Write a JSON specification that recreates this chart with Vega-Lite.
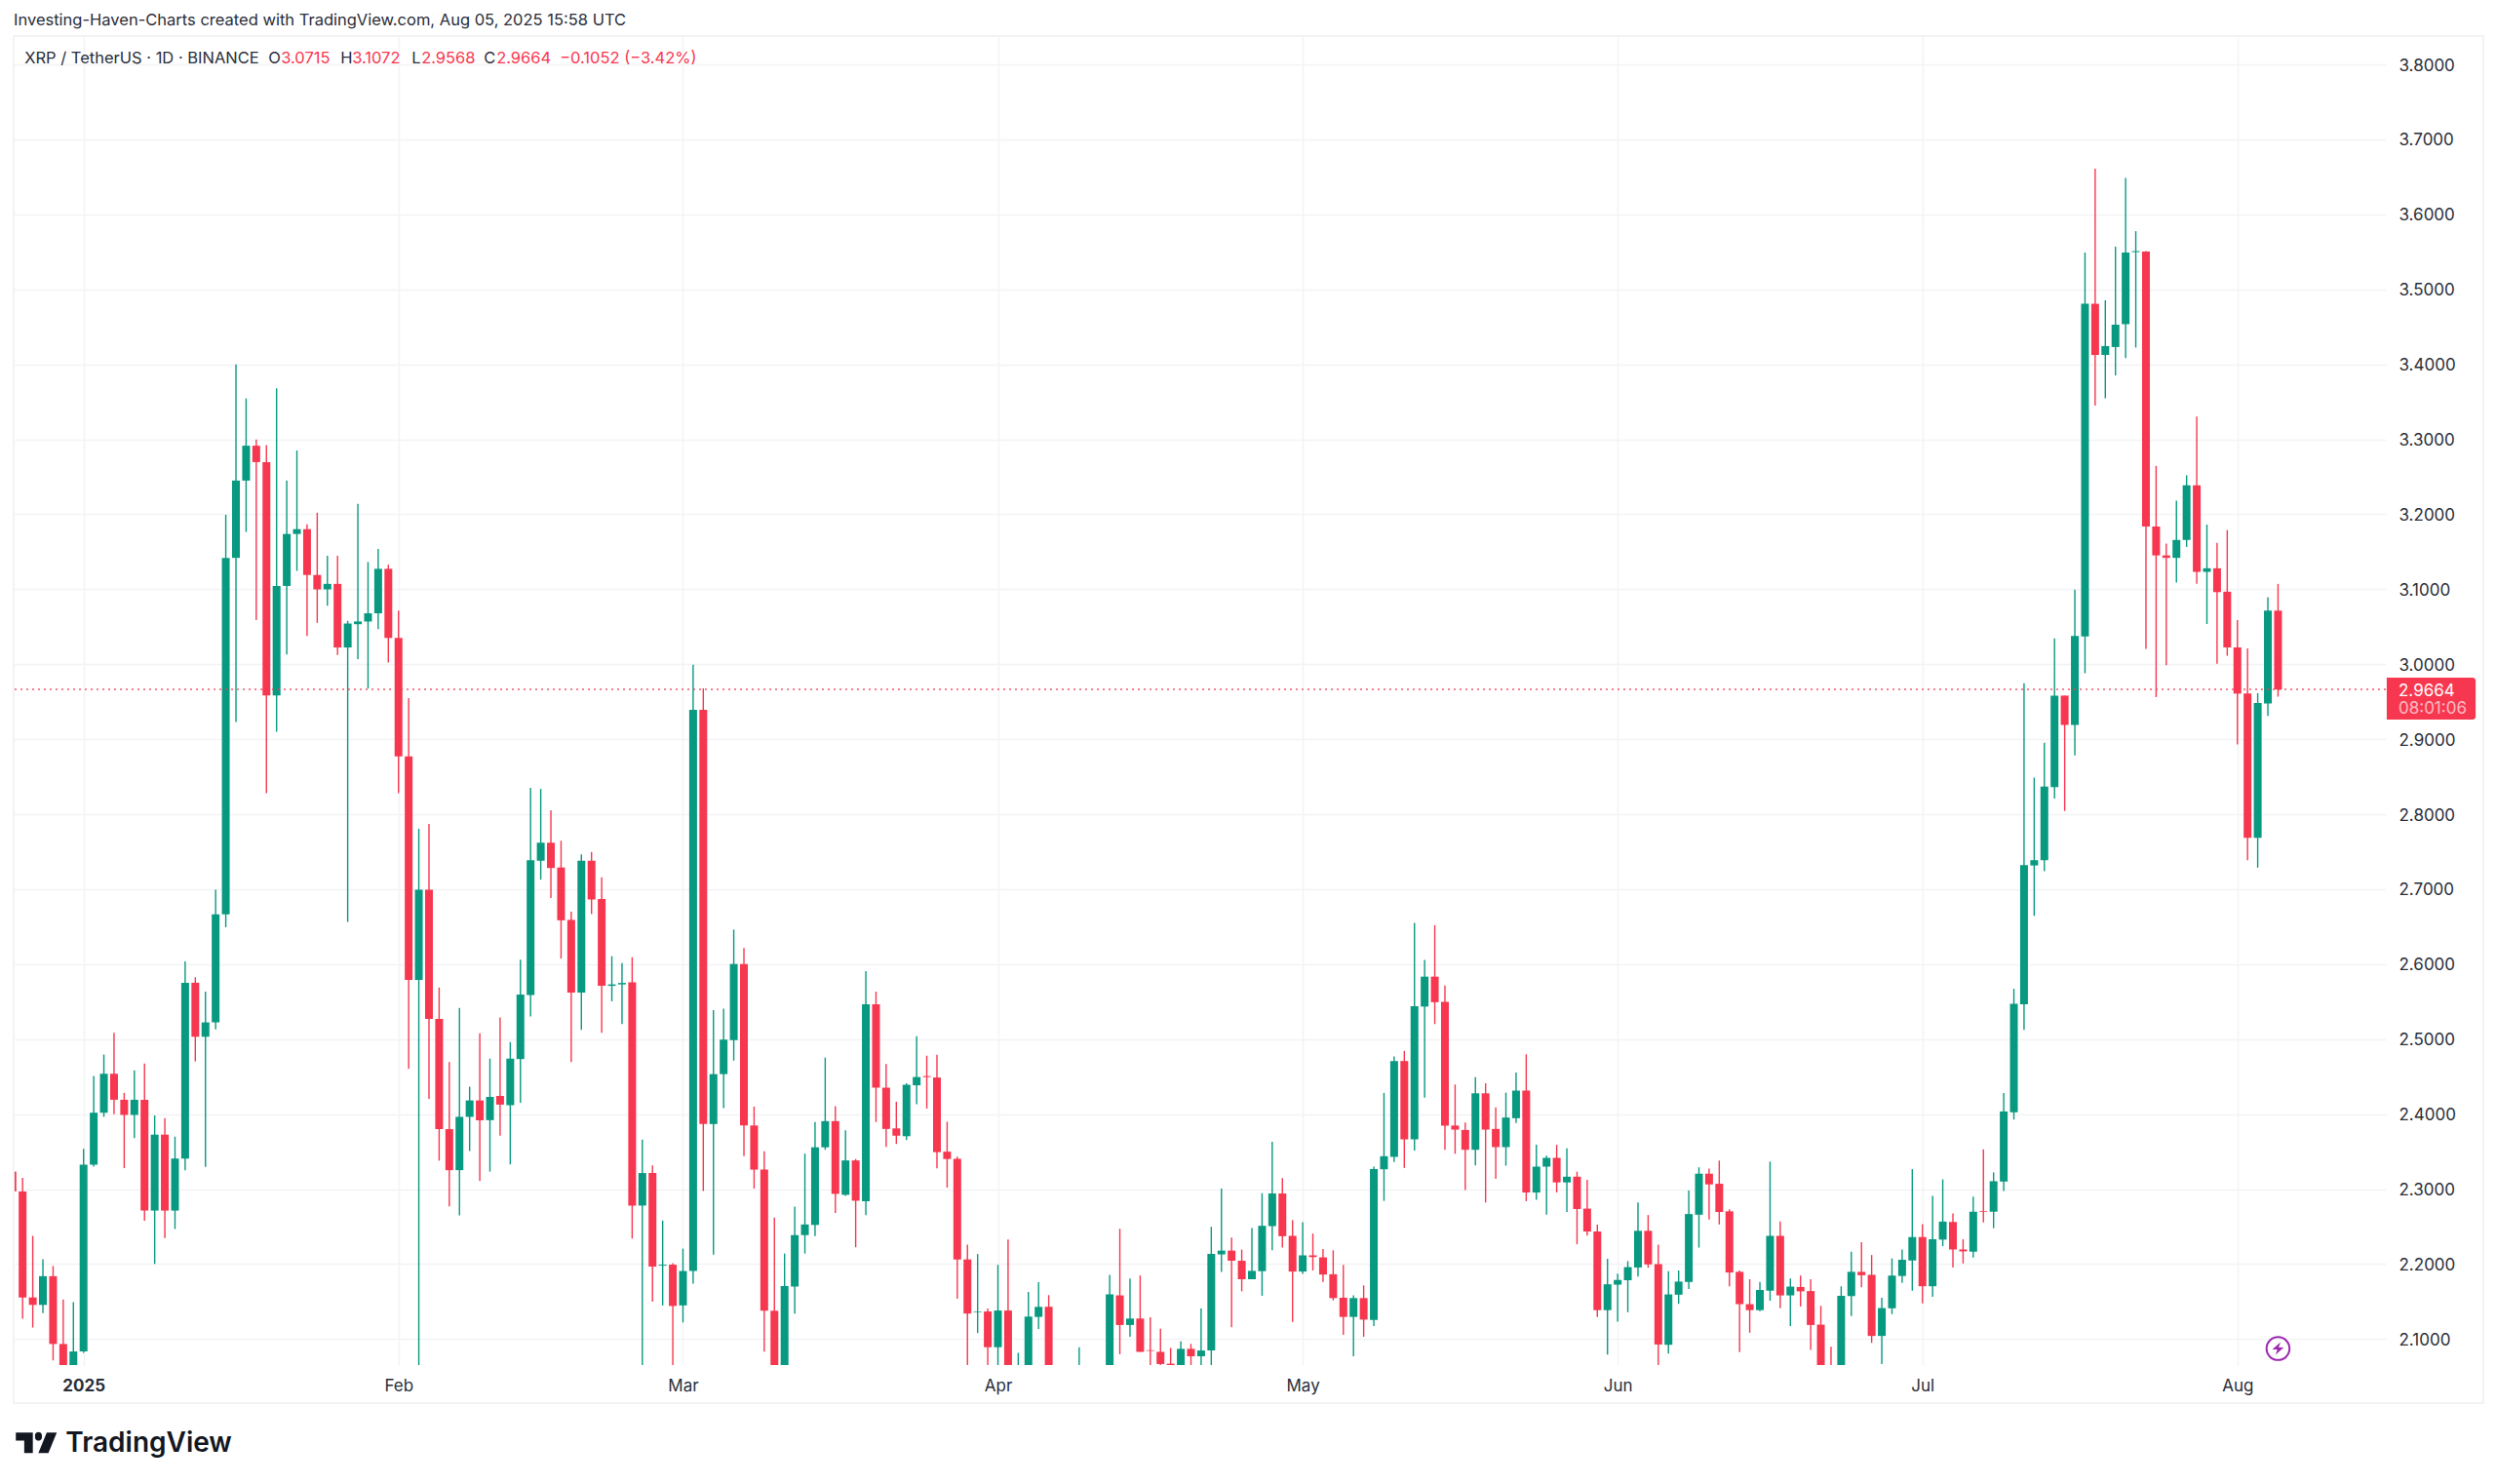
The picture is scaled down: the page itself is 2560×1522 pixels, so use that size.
{
"$schema":"https://vega.github.io/schema/vega-lite/v6.json",
"description":"XRP / TetherUS daily candles, Binance, Dec 2024 to Aug 2025",
"width":2433,"height":1363,
"autosize":{"type":"none"},
"padding":{"left":14,"top":37,"right":113,"bottom":122},
"background":"#ffffff",
"config":{"view":{"stroke":null},"font":"Inter"},
"title":{"text":"Investing-Haven-Charts created with TradingView.com, Aug 05, 2025 15:58 UTC","anchor":"start","frame":"group","offset":7,"font":"Inter","fontSize":16.5,"fontWeight":"normal","color":"#2a2e39"},
"data":{"values":[
{"date":"2024-12-25","open":2.3234,"high":2.3234,"low":2.297,"close":2.297},
{"date":"2024-12-26","open":2.297,"high":2.3152,"low":2.1273,"close":2.1556},
{"date":"2024-12-27","open":2.1556,"high":2.2377,"low":2.1154,"close":2.1456},
{"date":"2024-12-28","open":2.1456,"high":2.2066,"low":2.1345,"close":2.1839},
{"date":"2024-12-29","open":2.1839,"high":2.1975,"low":2.0716,"close":2.0935},
{"date":"2024-12-30","open":2.0935,"high":2.1527,"low":2.03,"close":2.05},
{"date":"2024-12-31","open":2.05,"high":2.1492,"low":2.02,"close":2.0835},
{"date":"2025-01-01","open":2.0835,"high":2.3536,"low":2.0817,"close":2.3326},
{"date":"2025-01-02","open":2.3326,"high":2.4511,"low":2.33,"close":2.4019},
{"date":"2025-01-03","open":2.4019,"high":2.4795,"low":2.3964,"close":2.4539},
{"date":"2025-01-04","open":2.4539,"high":2.5086,"low":2.4,"close":2.4192},
{"date":"2025-01-05","open":2.4192,"high":2.4283,"low":2.328,"close":2.399},
{"date":"2025-01-06","open":2.399,"high":2.4585,"low":2.3682,"close":2.4192},
{"date":"2025-01-07","open":2.4192,"high":2.4676,"low":2.2577,"close":2.2714},
{"date":"2025-01-08","open":2.2714,"high":2.3982,"low":2.2003,"close":2.3727},
{"date":"2025-01-09","open":2.3727,"high":2.3946,"low":2.2349,"close":2.2714},
{"date":"2025-01-10","open":2.2714,"high":2.37,"low":2.2468,"close":2.3408},
{"date":"2025-01-11","open":2.3408,"high":2.6036,"low":2.3253,"close":2.5753},
{"date":"2025-01-12","open":2.5753,"high":2.5826,"low":2.4703,"close":2.5032},
{"date":"2025-01-13","open":2.5032,"high":2.5634,"low":2.3298,"close":2.5224},
{"date":"2025-01-14","open":2.5224,"high":2.6994,"low":2.5132,"close":2.6665},
{"date":"2025-01-15","open":2.6665,"high":3.1994,"low":2.6492,"close":3.1419},
{"date":"2025-01-16","open":3.1419,"high":3.4,"low":2.9229,"close":3.245},
{"date":"2025-01-17","open":3.245,"high":3.3545,"low":3.1766,"close":3.2915},
{"date":"2025-01-18","open":3.2915,"high":3.2997,"low":3.0588,"close":3.2696},
{"date":"2025-01-19","open":3.2696,"high":3.2924,"low":2.828,"close":2.9585},
{"date":"2025-01-20","open":2.9585,"high":3.3682,"low":2.9101,"close":3.1045},
{"date":"2025-01-21","open":3.1045,"high":3.245,"low":3.0132,"close":3.1738},
{"date":"2025-01-22","open":3.1738,"high":3.2851,"low":3.1245,"close":3.1802},
{"date":"2025-01-23","open":3.1802,"high":3.1866,"low":3.0379,"close":3.1191},
{"date":"2025-01-24","open":3.1191,"high":3.2021,"low":3.0552,"close":3.0999},
{"date":"2025-01-25","open":3.0999,"high":3.1446,"low":3.078,"close":3.1072},
{"date":"2025-01-26","open":3.1072,"high":3.1446,"low":3.0123,"close":3.0224},
{"date":"2025-01-27","open":3.0224,"high":3.0579,"low":2.6565,"close":3.0543},
{"date":"2025-01-28","open":3.0534,"high":3.214,"low":3.0068,"close":3.0571},
{"date":"2025-01-29","open":3.057,"high":3.1364,"low":2.9676,"close":3.068},
{"date":"2025-01-30","open":3.068,"high":3.1537,"low":3.047,"close":3.1273},
{"date":"2025-01-31","open":3.1273,"high":3.1328,"low":3.0023,"close":3.0351},
{"date":"2025-02-01","open":3.0351,"high":3.0716,"low":2.828,"close":2.8773},
{"date":"2025-02-02","open":2.8773,"high":2.9548,"low":2.4603,"close":2.579},
{"date":"2025-02-03","open":2.579,"high":2.7806,"low":2.0,"close":2.6994},
{"date":"2025-02-04","open":2.6994,"high":2.787,"low":2.4203,"close":2.5269},
{"date":"2025-02-05","open":2.5269,"high":2.5689,"low":2.338,"close":2.38},
{"date":"2025-02-06","open":2.38,"high":2.4694,"low":2.2769,"close":2.3253},
{"date":"2025-02-07","open":2.3253,"high":2.5415,"low":2.265,"close":2.3964},
{"date":"2025-02-08","open":2.3964,"high":2.4366,"low":2.3508,"close":2.4183},
{"date":"2025-02-09","open":2.4183,"high":2.5077,"low":2.3107,"close":2.3918},
{"date":"2025-02-10","open":2.392,"high":2.4741,"low":2.3234,"close":2.423},
{"date":"2025-02-11","open":2.4243,"high":2.5291,"low":2.3713,"close":2.4127},
{"date":"2025-02-12","open":2.412,"high":2.4961,"low":2.3331,"close":2.4741},
{"date":"2025-02-13","open":2.4735,"high":2.6061,"low":2.4153,"close":2.5595},
{"date":"2025-02-14","open":2.5589,"high":2.8351,"low":2.5304,"close":2.7387},
{"date":"2025-02-15","open":2.738,"high":2.8338,"low":2.7128,"close":2.762},
{"date":"2025-02-16","open":2.762,"high":2.8053,"low":2.6882,"close":2.7283},
{"date":"2025-02-17","open":2.729,"high":2.7646,"low":2.6074,"close":2.6585},
{"date":"2025-02-18","open":2.6591,"high":2.6701,"low":2.4696,"close":2.5621},
{"date":"2025-02-19","open":2.5621,"high":2.7464,"low":2.5123,"close":2.738},
{"date":"2025-02-20","open":2.738,"high":2.7497,"low":2.6669,"close":2.6863},
{"date":"2025-02-21","open":2.6869,"high":2.716,"low":2.5084,"close":2.5711},
{"date":"2025-02-22","open":2.5711,"high":2.6106,"low":2.5505,"close":2.573},
{"date":"2025-02-23","open":2.573,"high":2.6016,"low":2.5201,"close":2.575},
{"date":"2025-02-24","open":2.5757,"high":2.6093,"low":2.2342,"close":2.2781},
{"date":"2025-02-25","open":2.2781,"high":2.3661,"low":2.0,"close":2.3215},
{"date":"2025-02-26","open":2.3215,"high":2.3318,"low":2.15,"close":2.1966},
{"date":"2025-02-27","open":2.1979,"high":2.2581,"low":2.1449,"close":2.1992},
{"date":"2025-02-28","open":2.1992,"high":2.2012,"low":2.0,"close":2.1442},
{"date":"2025-03-01","open":2.1449,"high":2.2206,"low":2.1222,"close":2.1908},
{"date":"2025-03-02","open":2.1908,"high":2.9994,"low":2.174,"close":2.9392},
{"date":"2025-03-03","open":2.9392,"high":2.9677,"low":2.2975,"close":2.3868},
{"date":"2025-03-04","open":2.3868,"high":2.5388,"low":2.2128,"close":2.4534},
{"date":"2025-03-05","open":2.4534,"high":2.5408,"low":2.4081,"close":2.4994},
{"date":"2025-03-06","open":2.4987,"high":2.6462,"low":2.4715,"close":2.6003},
{"date":"2025-03-07","open":2.6003,"high":2.6216,"low":2.3441,"close":2.3849},
{"date":"2025-03-08","open":2.3849,"high":2.4101,"low":2.3008,"close":2.326},
{"date":"2025-03-09","open":2.326,"high":2.3506,"low":2.0834,"close":2.1378},
{"date":"2025-03-10","open":2.1378,"high":2.262,"low":2.0,"close":2.03},
{"date":"2025-03-11","open":2.03,"high":2.2141,"low":2.0,"close":2.1708},
{"date":"2025-03-12","open":2.1701,"high":2.2768,"low":2.1339,"close":2.2387},
{"date":"2025-03-13","open":2.2387,"high":2.3473,"low":2.2141,"close":2.2529},
{"date":"2025-03-14","open":2.2523,"high":2.3894,"low":2.2374,"close":2.3558},
{"date":"2025-03-15","open":2.3558,"high":2.4754,"low":2.3525,"close":2.3907},
{"date":"2025-03-16","open":2.3907,"high":2.4107,"low":2.2684,"close":2.2937},
{"date":"2025-03-17","open":2.2924,"high":2.3784,"low":2.2911,"close":2.3383},
{"date":"2025-03-18","open":2.3383,"high":2.3402,"low":2.2225,"close":2.2846},
{"date":"2025-03-19","open":2.284,"high":2.5906,"low":2.2652,"close":2.5466},
{"date":"2025-03-20","open":2.5466,"high":2.5634,"low":2.3894,"close":2.4353},
{"date":"2025-03-21","open":2.4353,"high":2.467,"low":2.3564,"close":2.3803},
{"date":"2025-03-22","open":2.381,"high":2.4166,"low":2.3603,"close":2.3713},
{"date":"2025-03-23","open":2.3706,"high":2.4411,"low":2.3655,"close":2.4392},
{"date":"2025-03-24","open":2.4385,"high":2.5039,"low":2.4133,"close":2.4495},
{"date":"2025-03-25","open":2.4508,"high":2.478,"low":2.4075,"close":2.4495},
{"date":"2025-03-26","open":2.4489,"high":2.4793,"low":2.3279,"close":2.3493},
{"date":"2025-03-27","open":2.35,"high":2.39,"low":2.3021,"close":2.3402},
{"date":"2025-03-28","open":2.3404,"high":2.3435,"low":2.1538,"close":2.2063},
{"date":"2025-03-29","open":2.2063,"high":2.226,"low":2.0,"close":2.1341},
{"date":"2025-03-30","open":2.1359,"high":2.2135,"low":2.1081,"close":2.1368},
{"date":"2025-03-31","open":2.1368,"high":2.1408,"low":2.0,"close":2.0892},
{"date":"2025-04-01","open":2.0892,"high":2.1991,"low":2.0,"close":2.1381},
{"date":"2025-04-02","open":2.1381,"high":2.2327,"low":1.95,"close":2.03},
{"date":"2025-04-03","open":2.0,"high":2.0816,"low":1.95,"close":2.04},
{"date":"2025-04-04","open":2.03,"high":2.1628,"low":2.0,"close":2.13},
{"date":"2025-04-05","open":2.1296,"high":2.1758,"low":2.1135,"close":2.143},
{"date":"2025-04-06","open":2.143,"high":2.1587,"low":1.95,"close":2.02},
{"date":"2025-04-09","open":1.95,"high":2.0892,"low":1.9,"close":2.03},
{"date":"2025-04-12","open":2.0,"high":2.1857,"low":1.95,"close":2.1596},
{"date":"2025-04-13","open":2.1583,"high":2.2471,"low":2.0798,"close":2.1188},
{"date":"2025-04-14","open":2.1188,"high":2.1807,"low":2.1031,"close":2.1274},
{"date":"2025-04-15","open":2.1274,"high":2.1848,"low":2.083,"close":2.083},
{"date":"2025-04-16","open":2.0852,"high":2.1291,"low":2.04,"close":2.0843},
{"date":"2025-04-17","open":2.083,"high":2.1139,"low":2.04,"close":2.0668},
{"date":"2025-04-18","open":2.0672,"high":2.0883,"low":2.0,"close":2.05},
{"date":"2025-04-19","open":2.05,"high":2.0969,"low":2.03,"close":2.087},
{"date":"2025-04-20","open":2.087,"high":2.0937,"low":2.04,"close":2.0771},
{"date":"2025-04-21","open":2.0771,"high":2.1408,"low":2.04,"close":2.0848},
{"date":"2025-04-22","open":2.0848,"high":2.2498,"low":2.04,"close":2.2135},
{"date":"2025-04-23","open":2.213,"high":2.3009,"low":2.1897,"close":2.218},
{"date":"2025-04-24","open":2.218,"high":2.2354,"low":2.1157,"close":2.2045},
{"date":"2025-04-25","open":2.2045,"high":2.2193,"low":2.1637,"close":2.1798},
{"date":"2025-04-26","open":2.1798,"high":2.248,"low":2.1798,"close":2.191},
{"date":"2025-04-27","open":2.1906,"high":2.2946,"low":2.1578,"close":2.2511},
{"date":"2025-04-28","open":2.2507,"high":2.3632,"low":2.2184,"close":2.2942},
{"date":"2025-04-29","open":2.2942,"high":2.3148,"low":2.222,"close":2.2372},
{"date":"2025-04-30","open":2.2377,"high":2.2587,"low":2.1229,"close":2.1901},
{"date":"2025-05-01","open":2.1901,"high":2.256,"low":2.187,"close":2.2117},
{"date":"2025-05-02","open":2.2117,"high":2.2408,"low":2.1915,"close":2.2094},
{"date":"2025-05-03","open":2.209,"high":2.2202,"low":2.1762,"close":2.1861},
{"date":"2025-05-04","open":2.1865,"high":2.2184,"low":2.1516,"close":2.1547},
{"date":"2025-05-05","open":2.1552,"high":2.1991,"low":2.1058,"close":2.1296},
{"date":"2025-05-06","open":2.1296,"high":2.1583,"low":2.0771,"close":2.1547},
{"date":"2025-05-07","open":2.1547,"high":2.1717,"low":2.1031,"close":2.126},
{"date":"2025-05-08","open":2.1256,"high":2.33,"low":2.1175,"close":2.3269},
{"date":"2025-05-09","open":2.3265,"high":2.4283,"low":2.2843,"close":2.3439},
{"date":"2025-05-10","open":2.343,"high":2.4771,"low":2.3363,"close":2.4709},
{"date":"2025-05-11","open":2.4709,"high":2.4843,"low":2.3283,"close":2.3664},
{"date":"2025-05-12","open":2.3664,"high":2.6552,"low":2.3516,"close":2.544},
{"date":"2025-05-13","open":2.5435,"high":2.6058,"low":2.422,"close":2.5834},
{"date":"2025-05-14","open":2.5834,"high":2.652,"low":2.5202,"close":2.5493},
{"date":"2025-05-15","open":2.5498,"high":2.5717,"low":2.3525,"close":2.3848},
{"date":"2025-05-16","open":2.3848,"high":2.4395,"low":2.3471,"close":2.3794},
{"date":"2025-05-17","open":2.3789,"high":2.3888,"low":2.2987,"close":2.3525},
{"date":"2025-05-18","open":2.3525,"high":2.4493,"low":2.3318,"close":2.4278},
{"date":"2025-05-19","open":2.4278,"high":2.4413,"low":2.2821,"close":2.3794},
{"date":"2025-05-20","open":2.3803,"high":2.409,"low":2.3139,"close":2.3561},
{"date":"2025-05-21","open":2.3561,"high":2.4287,"low":2.3314,"close":2.3955},
{"date":"2025-05-22","open":2.3946,"high":2.4556,"low":2.3883,"close":2.4314},
{"date":"2025-05-23","open":2.4314,"high":2.4798,"low":2.2839,"close":2.2955},
{"date":"2025-05-24","open":2.2955,"high":2.3592,"low":2.2857,"close":2.33},
{"date":"2025-05-25","open":2.33,"high":2.3448,"low":2.2659,"close":2.3417},
{"date":"2025-05-26","open":2.3417,"high":2.3592,"low":2.2955,"close":2.309},
{"date":"2025-05-27","open":2.309,"high":2.3543,"low":2.2695,"close":2.3166},
{"date":"2025-05-28","open":2.3166,"high":2.3233,"low":2.2265,"close":2.2735},
{"date":"2025-05-29","open":2.274,"high":2.3126,"low":2.2381,"close":2.2435},
{"date":"2025-05-30","open":2.2435,"high":2.2525,"low":2.1296,"close":2.1386},
{"date":"2025-05-31","open":2.1386,"high":2.2072,"low":2.0794,"close":2.1731},
{"date":"2025-06-01","open":2.1726,"high":2.1874,"low":2.1233,"close":2.1789},
{"date":"2025-06-02","open":2.1785,"high":2.204,"low":2.1359,"close":2.196},
{"date":"2025-06-03","open":2.1955,"high":2.2821,"low":2.1834,"close":2.2444},
{"date":"2025-06-04","open":2.2444,"high":2.2655,"low":2.1951,"close":2.1996},
{"date":"2025-06-05","open":2.2,"high":2.226,"low":2.04,"close":2.0928},
{"date":"2025-06-06","open":2.0924,"high":2.1906,"low":2.0807,"close":2.1596},
{"date":"2025-06-07","open":2.1592,"high":2.1915,"low":2.1471,"close":2.1767},
{"date":"2025-06-08","open":2.1762,"high":2.2982,"low":2.1668,"close":2.2668},
{"date":"2025-06-09","open":2.2659,"high":2.3291,"low":2.222,"close":2.3206},
{"date":"2025-06-10","open":2.3206,"high":2.3274,"low":2.2596,"close":2.3063},
{"date":"2025-06-11","open":2.3072,"high":2.3381,"low":2.2529,"close":2.2695},
{"date":"2025-06-12","open":2.2704,"high":2.2731,"low":2.1704,"close":2.1888},
{"date":"2025-06-13","open":2.1897,"high":2.1915,"low":2.0825,"close":2.1466},
{"date":"2025-06-14","open":2.1466,"high":2.1798,"low":2.1085,"close":2.1386},
{"date":"2025-06-15","open":2.1386,"high":2.1762,"low":2.1372,"close":2.1655},
{"date":"2025-06-16","open":2.1646,"high":2.3368,"low":2.1511,"close":2.2377},
{"date":"2025-06-17","open":2.2377,"high":2.257,"low":2.1413,"close":2.1583},
{"date":"2025-06-18","open":2.1583,"high":2.1807,"low":2.1175,"close":2.17},
{"date":"2025-06-19","open":2.1695,"high":2.1848,"low":2.1435,"close":2.1637},
{"date":"2025-06-20","open":2.1641,"high":2.1798,"low":2.0857,"close":2.1188},
{"date":"2025-06-21","open":2.1193,"high":2.1444,"low":2.0,"close":2.03},
{"date":"2025-06-22","open":2.05,"high":2.0897,"low":2.0,"close":2.03},
{"date":"2025-06-23","open":2.03,"high":2.1704,"low":2.0,"close":2.1578},
{"date":"2025-06-24","open":2.1574,"high":2.2166,"low":2.1309,"close":2.1897},
{"date":"2025-06-25","open":2.1897,"high":2.2291,"low":2.1691,"close":2.1852},
{"date":"2025-06-26","open":2.1857,"high":2.2121,"low":2.095,"close":2.1042},
{"date":"2025-06-27","open":2.1042,"high":2.1552,"low":2.0667,"close":2.1414},
{"date":"2025-06-28","open":2.1411,"high":2.2077,"low":2.1333,"close":2.1847},
{"date":"2025-06-29","open":2.1842,"high":2.2195,"low":2.1749,"close":2.2058},
{"date":"2025-06-30","open":2.2048,"high":2.3267,"low":2.1646,"close":2.2361},
{"date":"2025-07-01","open":2.2361,"high":2.2533,"low":2.1475,"close":2.1705},
{"date":"2025-07-02","open":2.1705,"high":2.291,"low":2.1563,"close":2.2332},
{"date":"2025-07-03","open":2.2327,"high":2.313,"low":2.2239,"close":2.2567},
{"date":"2025-07-04","open":2.2562,"high":2.2675,"low":2.1955,"close":2.2195},
{"date":"2025-07-05","open":2.2195,"high":2.2332,"low":2.2009,"close":2.217},
{"date":"2025-07-06","open":2.2166,"high":2.29,"low":2.2087,"close":2.2699},
{"date":"2025-07-07","open":2.2709,"high":2.3532,"low":2.2557,"close":2.2699},
{"date":"2025-07-08","open":2.2699,"high":2.3223,"low":2.2479,"close":2.3106},
{"date":"2025-07-09","open":2.3101,"high":2.4281,"low":2.2974,"close":2.4036},
{"date":"2025-07-10","open":2.4026,"high":2.5672,"low":2.3928,"close":2.5471},
{"date":"2025-07-11","open":2.5466,"high":2.9748,"low":2.5123,"close":2.7322},
{"date":"2025-07-12","open":2.7317,"high":2.8488,"low":2.6645,"close":2.7387},
{"date":"2025-07-13","open":2.7387,"high":2.8952,"low":2.7241,"close":2.8369},
{"date":"2025-07-14","open":2.8362,"high":3.0345,"low":2.821,"close":2.9582},
{"date":"2025-07-15","open":2.9582,"high":2.9582,"low":2.8044,"close":2.9191},
{"date":"2025-07-16","open":2.9191,"high":3.0995,"low":2.8786,"close":3.0378},
{"date":"2025-07-17","open":3.0371,"high":3.5491,"low":2.9881,"close":3.4808},
{"date":"2025-07-18","open":3.4808,"high":3.6611,"low":3.3448,"close":3.4125},
{"date":"2025-07-19","open":3.4125,"high":3.4854,"low":3.3548,"close":3.4244},
{"date":"2025-07-20","open":3.4231,"high":3.557,"low":3.3853,"close":3.4529},
{"date":"2025-07-21","open":3.4536,"high":3.6485,"low":3.4085,"close":3.5491},
{"date":"2025-07-22","open":3.5497,"high":3.5776,"low":3.4224,"close":3.551},
{"date":"2025-07-23","open":3.5504,"high":3.551,"low":3.0206,"close":3.1837},
{"date":"2025-07-24","open":3.1837,"high":3.2646,"low":2.9562,"close":3.1452},
{"date":"2025-07-25","open":3.1452,"high":3.1611,"low":2.9987,"close":3.1419},
{"date":"2025-07-26","open":3.1419,"high":3.2182,"low":3.1088,"close":3.1658},
{"date":"2025-07-27","open":3.1658,"high":3.252,"low":3.1565,"close":3.2387},
{"date":"2025-07-28","open":3.2387,"high":3.3302,"low":3.1074,"close":3.1233},
{"date":"2025-07-29","open":3.1233,"high":3.1863,"low":3.0537,"close":3.128},
{"date":"2025-07-30","open":3.128,"high":3.1618,"low":3.0007,"close":3.0962},
{"date":"2025-07-31","open":3.0968,"high":3.179,"low":3.0113,"close":3.0225},
{"date":"2025-08-01","open":3.0225,"high":3.059,"low":2.8932,"close":2.9609},
{"date":"2025-08-02","open":2.9609,"high":3.0212,"low":2.7387,"close":2.7686},
{"date":"2025-08-03","open":2.7686,"high":2.9615,"low":2.7288,"close":2.9483},
{"date":"2025-08-04","open":2.9476,"high":3.0895,"low":2.931,"close":3.0716},
{"date":"2025-08-05","open":3.0715,"high":3.1072,"low":2.9568,"close":2.9664}
]},
"layer":[
{"mark":{"type":"rule","strokeWidth":1.4,"clip":true},
"encoding":{
"x":{"field":"date","type":"temporal",
"scale":{"type":"utc","padding":0,"domain":[1735095081600,1755268704000]},
"axis":{"title":null,"orient":"bottom","domain":false,"ticks":false,"grid":true,"gridColor":"#f2f3f5","gridWidth":1.5,
"values":[1735689600000,1738368000000,1740787200000,1743465600000,1746057600000,1748736000000,1751328000000,1754006400000],
"labelExpr":"utcmonth(datum.value)==0 ? '2025' : utcFormat(datum.value,'%b')",
"labelFontWeight":{"condition":{"test":"utcmonth(datum.value)==0","value":"bold"},"value":"normal"},
"labelFont":"Inter","labelFontSize":17,"labelColor":"#2a2e39","labelPadding":13,"labelFlush":false,"labelOverlap":false}},
"y":{"field":"low","type":"quantitative",
"scale":{"domain":[2.0654,3.8378],"nice":false,"zero":false},
"axis":{"title":null,"orient":"right","domain":false,"ticks":false,"grid":true,"gridColor":"#f2f3f5","gridWidth":1.5,
"values":[2.1,2.2,2.3,2.4,2.5,2.6,2.7,2.8,2.9,3.0,3.1,3.2,3.3,3.4,3.5,3.6,3.7,3.8],"format":".4f",
"labelFont":"Inter","labelFontSize":17,"labelColor":"#2a2e39","labelPadding":13,"labelOffset":1,"labelFlush":false,"labelOverlap":false}},
"y2":{"field":"high"},
"color":{"condition":{"test":"datum.close >= datum.open","value":"#089981"},"value":"#f7374f"}}},
{"mark":{"type":"bar","size":8,"clip":true},
"encoding":{"x":{"field":"date","type":"temporal"},"y":{"field":"open","type":"quantitative"},"y2":{"field":"close"},
"color":{"condition":{"test":"datum.close >= datum.open","value":"#089981"},"value":"#f7374f"}}},
{"data":{"values":[{}]},
"mark":{"type":"rule","stroke":"#f7374f","strokeWidth":1.5,"strokeDash":[2,4],"opacity":0.85},
"encoding":{"y":{"datum":2.9664,"type":"quantitative"}}},
{"data":{"values":[{}]},
"mark":{"type":"rect","fillOpacity":0,"fill":"#ffffff","stroke":"#f2f3f5","strokeWidth":2,"clip":false},
"encoding":{"x":{"datum":1735095081600,"type":"temporal"},"x2":{"datum":1756097280000},
"y":{"datum":3.8378,"type":"quantitative"},"y2":{"datum":2.0147}}},
{"data":{"values":[{}]},
"encoding":{"x":{"datum":1735187400000,"type":"temporal"},"y":{"datum":3.8075,"type":"quantitative"}},
"layer":[
{"mark":{"type":"text","text":"XRP / TetherUS · 1D · BINANCE","align":"left","font":"Inter","fontSize":16.5,"color":"#2a2e39"}},
{"mark":{"type":"text","text":"O","dx":250,"align":"left","font":"Inter","fontSize":16.5,"color":"#2a2e39"}},
{"mark":{"type":"text","text":"3.0715","dx":263,"align":"left","font":"Inter","fontSize":16.5,"color":"#f7374f"}},
{"mark":{"type":"text","text":"H","dx":324,"align":"left","font":"Inter","fontSize":16.5,"color":"#2a2e39"}},
{"mark":{"type":"text","text":"3.1072","dx":336,"align":"left","font":"Inter","fontSize":16.5,"color":"#f7374f"}},
{"mark":{"type":"text","text":"L","dx":397,"align":"left","font":"Inter","fontSize":16.5,"color":"#2a2e39"}},
{"mark":{"type":"text","text":"2.9568","dx":407,"align":"left","font":"Inter","fontSize":16.5,"color":"#f7374f"}},
{"mark":{"type":"text","text":"C","dx":471,"align":"left","font":"Inter","fontSize":16.5,"color":"#2a2e39"}},
{"mark":{"type":"text","text":"2.9664","dx":484,"align":"left","font":"Inter","fontSize":16.5,"color":"#f7374f"}},
{"mark":{"type":"text","text":"−0.1052 (−3.42%)","dx":549,"align":"left","font":"Inter","fontSize":16.5,"color":"#f7374f"}}
]},
{"data":{"values":[{}]},
"mark":{"type":"rect","fill":"#f7374f","cornerRadiusTopRight":3,"cornerRadiusBottomRight":3,"clip":false},
"encoding":{"x":{"datum":1755276480000,"type":"temporal"},"x2":{"datum":1756032480000},
"y":{"datum":2.9822,"type":"quantitative"},"y2":{"datum":2.9263}}},
{"data":{"values":[{}]},
"encoding":{"x":{"datum":1755268704000,"type":"temporal"}},
"layer":[
{"mark":{"type":"text","text":"2.9664","dx":13,"align":"left","font":"Inter","fontSize":17,"color":"#ffffff","clip":false},
"encoding":{"y":{"datum":2.9645,"type":"quantitative"}}},
{"mark":{"type":"text","text":"08:01:06","dx":13,"align":"left","font":"Inter","fontSize":17,"color":"#ffffff","opacity":0.65,"clip":false},
"encoding":{"y":{"datum":2.9405,"type":"quantitative"}}}
]},
{"data":{"values":[{}]},
"encoding":{"x":{"datum":1754352000000,"type":"temporal"},"y":{"datum":2.0874,"type":"quantitative"}},
"layer":[
{"mark":{"type":"point","shape":"circle","size":556,"filled":false,"stroke":"#9c27b0","strokeWidth":2,"opacity":1}},
{"mark":{"type":"point","shape":"M0.4 -1L-0.9 0.15H-0.1L-0.4 1L0.9 -0.15H0.1Z","size":169,"filled":true,"fill":"#9c27b0","opacity":1}}
]},
{"data":{"values":[{}]},
"encoding":{"x":{"datum":1735287840000,"type":"temporal"}},
"layer":[
{"mark":{"type":"point","shape":"M-1 -0.5H-0.17V0.5H-0.59V-0.1H-1Z M-0.06 -0.31A0.17 0.17 0 1 0 0.27 -0.31A0.17 0.17 0 1 0 -0.06 -0.31Z M0.51 -0.5H1L0.59 0.5H0.1Z","size":1764,"filled":true,"fill":"#131722","opacity":1,"clip":false},
"encoding":{"y":{"datum":1.9618,"type":"quantitative"}}},
{"mark":{"type":"text","text":"TradingView","dx":30,"align":"left","font":"Inter","fontSize":28,"fontWeight":600,"color":"#131722","clip":false},
"encoding":{"y":{"datum":1.9601,"type":"quantitative"}}}
]}
]
}
